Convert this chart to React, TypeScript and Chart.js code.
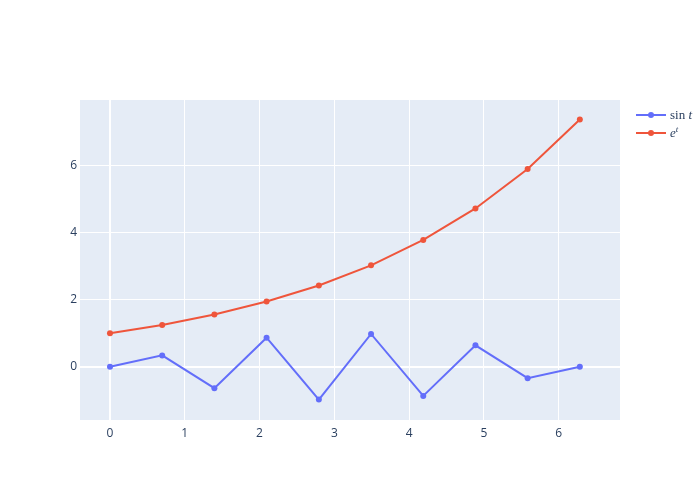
import React, { useEffect, useRef } from "react";
import { Chart, registerables } from "chart.js";

Chart.register(...registerables);

const tValues = [0, 0.698, 1.396, 2.094, 2.793, 3.491, 4.189, 4.887, 5.585, 6.283];
const sinValues = [0, 0.34, -0.64, 0.87, -0.98, 0.98, -0.87, 0.64, -0.34, 0];
const expValues = [1, 1.25, 1.56, 1.95, 2.43, 3.03, 3.79, 4.73, 5.91, 7.39];
const seriesNames = ["sin t", "e^t"];
const seriesColors = ["#636efa", "#EF553B"];

const bgPlugin = {
  id: "plotBg",
  beforeDraw(chart: any) {
    const { ctx, chartArea } = chart;
    ctx.save();
    ctx.fillStyle = "#E5ECF6";
    ctx.fillRect(chartArea.left, chartArea.top, chartArea.right - chartArea.left, chartArea.bottom - chartArea.top);
    ctx.restore();
  },
};

export default function App() {
  const ref = useRef<HTMLCanvasElement>(null);
  useEffect(() => {
    const chart = new Chart(ref.current!, {
      type: "line",
      data: {
        datasets: [
          {
            label: seriesNames[0],
            data: tValues.map((t, i) => ({ x: t, y: sinValues[i] })),
            borderColor: seriesColors[0],
            backgroundColor: seriesColors[0],
            borderWidth: 2,
            pointRadius: 3,
            pointBorderWidth: 0,
          },
          {
            label: seriesNames[1],
            data: tValues.map((t, i) => ({ x: t, y: expValues[i] })),
            borderColor: seriesColors[1],
            backgroundColor: seriesColors[1],
            borderWidth: 2,
            pointRadius: 3,
            pointBorderWidth: 0,
          },
        ],
      },
      options: {
        animation: false,
        responsive: false,
        layout: { padding: { left: 0, right: 80, top: 100, bottom: 0 } },
        plugins: { legend: { display: false }, tooltip: { enabled: false } },
        scales: {
          x: {
            type: "linear",
            min: -0.401,
            max: 6.82,
            afterFit(scale: any) {
              scale.height = 80;
            },
            border: { display: false },
            grid: {
              color: "#ffffff",
              lineWidth: (c: any) => (c.tick && c.tick.value === 0 ? 2 : 1),
              drawTicks: false,
            },
            ticks: {
              stepSize: 1,
              includeBounds: false,
              color: "#2a3f5f",
              font: { family: "'Open Sans', sans-serif", size: 12 },
              padding: 6,
              maxRotation: 0,
            },
          },
          y: {
            type: "linear",
            min: -1.59,
            max: 7.97,
            afterFit(scale: any) {
              scale.width = 80;
            },
            border: { display: false },
            grid: {
              color: "#ffffff",
              lineWidth: (c: any) => (c.tick && c.tick.value === 0 ? 2 : 1),
              drawTicks: false,
            },
            ticks: {
              stepSize: 2,
              includeBounds: false,
              color: "#2a3f5f",
              font: { family: "'Open Sans', sans-serif", size: 12 },
              padding: 3,
            },
          },
        },
      },
      plugins: [bgPlugin],
    });
    return () => chart.destroy();
  }, []);

  const legendItem = (color: string, top: number, label: React.ReactNode) => (
    <div style={{ position: "absolute", left: 636, top: top - 10, height: 20, display: "flex", alignItems: "center" }}>
      <svg width={32} height={20}>
        <line x1={0} y1={10} x2={30} y2={10} stroke={color} strokeWidth={2} />
        <circle cx={15} cy={10} r={3} fill={color} />
      </svg>
      <span style={{ fontFamily: "'Liberation Serif', 'DejaVu Serif', serif", fontSize: 13, color: "#2a3f5f", marginLeft: 2 }}>
        {label}
      </span>
    </div>
  );

  return (
    <div style={{ position: "absolute", left: 0, top: 0, width: 700, height: 500, background: "#fff" }}>
      <canvas ref={ref} width={700} height={500} style={{ display: "block" }} />
      {legendItem(seriesColors[0], 115, <>sin <i>t</i></>)}
      {legendItem(seriesColors[1], 133, <><i>e</i><sup style={{ fontSize: 9 }}><i>t</i></sup></>)}
    </div>
  );
}
